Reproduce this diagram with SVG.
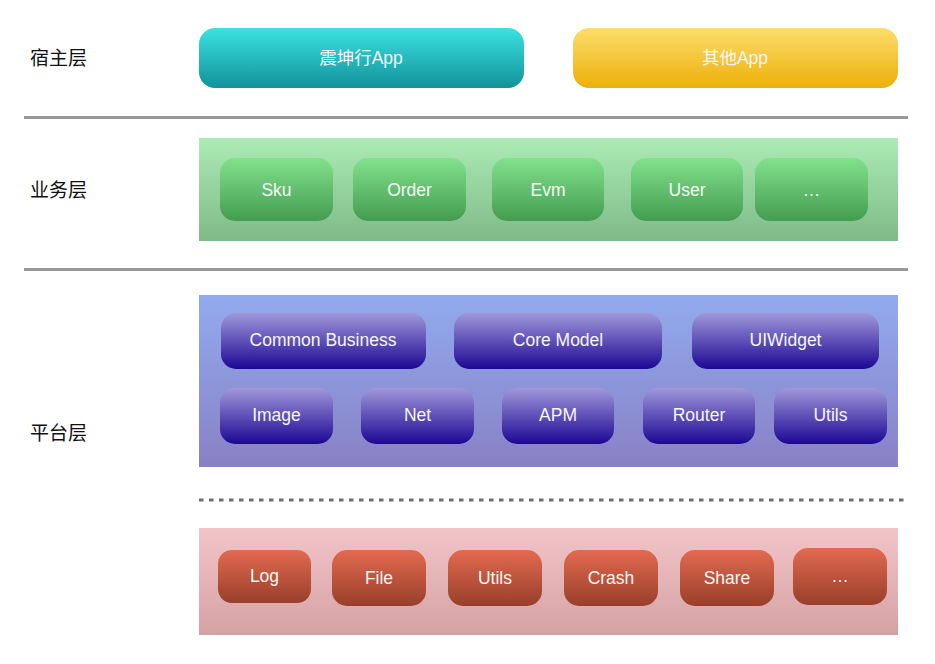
<svg xmlns="http://www.w3.org/2000/svg" width="935" height="664" viewBox="0 0 935 664">
<defs>
<linearGradient id="gTeal" x1="0" y1="0" x2="0" y2="1"><stop offset="0" stop-color="#3ae2e2"/><stop offset="1" stop-color="#12929a"/></linearGradient>
<linearGradient id="gYellow" x1="0" y1="0" x2="0" y2="1"><stop offset="0" stop-color="#fddd6c"/><stop offset="1" stop-color="#ecb009"/></linearGradient>
<linearGradient id="gGreenPanel" x1="0" y1="0" x2="0" y2="1"><stop offset="0" stop-color="#abebb4"/><stop offset="1" stop-color="#7fba88"/></linearGradient>
<linearGradient id="gGreenNode" x1="0" y1="0" x2="0" y2="1"><stop offset="0" stop-color="#82e28c"/><stop offset="1" stop-color="#439c50"/></linearGradient>
<linearGradient id="gBluePanel" x1="0" y1="0" x2="0" y2="1"><stop offset="0" stop-color="#91abee"/><stop offset="1" stop-color="#8980c5"/></linearGradient>
<linearGradient id="gBlueNode" x1="0" y1="0" x2="0" y2="1"><stop offset="0" stop-color="#a098da"/><stop offset="1" stop-color="#1c0794"/></linearGradient>
<linearGradient id="gPinkPanel" x1="0" y1="0" x2="0" y2="1"><stop offset="0" stop-color="#f2c4c8"/><stop offset="1" stop-color="#d5a2a4"/></linearGradient>
<linearGradient id="gRedNode" x1="0" y1="0" x2="0" y2="1"><stop offset="0" stop-color="#e36a50"/><stop offset="1" stop-color="#983f2a"/></linearGradient>
<style>
.lbl{font-family:"Noto Sans CJK SC","Liberation Sans",sans-serif;font-size:19px;fill:#111}
.t{font-family:"Liberation Sans","Noto Sans CJK SC",sans-serif;font-size:17.5px;fill:#f6f6f6;text-anchor:middle}
.green{fill:url(#gGreenNode)}
.blue{fill:url(#gBlueNode)}
.red{fill:url(#gRedNode)}
.sep{stroke:#999;stroke-width:3}
</style>
</defs>

<g id="labels">
<text class="lbl" x="30" y="65">宿主层</text>
<text class="lbl" x="30" y="197">业务层</text>
<text class="lbl" x="30" y="440">平台层</text>
</g>

<g id="panels">
<rect x="199" y="138" width="699" height="103" fill="url(#gGreenPanel)"/>
<rect x="199" y="295" width="699" height="172" fill="url(#gBluePanel)"/>
<rect x="199" y="528" width="699" height="107" fill="url(#gPinkPanel)"/>
</g>

<g id="connectors">
<line class="sep" x1="24" y1="117.5" x2="908" y2="117.5"/>
<line class="sep" x1="24" y1="269.5" x2="908" y2="269.5"/>
<line x1="199" y1="500" x2="905" y2="500" stroke="#6e6e6e" stroke-width="3" stroke-dasharray="4.5 5.5"/>
</g>

<g id="host-zkh"><rect x="199" y="28" width="325" height="60" rx="16" fill="url(#gTeal)"/><text class="t" x="361" y="64">震坤行App</text></g>
<g id="host-other"><rect x="573" y="28" width="325" height="60" rx="16" fill="url(#gYellow)"/><text class="t" x="735" y="64">其他App</text></g>

<g id="biz-sku"><rect class="green" x="220" y="158" width="113" height="63" rx="15"/><text class="t" x="276.5" y="196">Sku</text></g>
<g id="biz-order"><rect class="green" x="353" y="158" width="113" height="63" rx="15"/><text class="t" x="409.5" y="196">Order</text></g>
<g id="biz-evm"><rect class="green" x="492" y="158" width="112" height="63" rx="15"/><text class="t" x="548" y="196">Evm</text></g>
<g id="biz-user"><rect class="green" x="631" y="158" width="112" height="63" rx="15"/><text class="t" x="687" y="196">User</text></g>
<g id="biz-more"><rect class="green" x="755" y="158" width="113" height="63" rx="15"/><text class="t" x="811.5" y="196">…</text></g>

<g id="pf-common"><rect class="blue" x="221" y="313" width="205" height="56" rx="15"/><text class="t" x="323" y="346">Common Business</text></g>
<g id="pf-core"><rect class="blue" x="454" y="313" width="208" height="56" rx="15"/><text class="t" x="558" y="346">Core Model</text></g>
<g id="pf-uiwidget"><rect class="blue" x="692" y="313" width="187" height="56" rx="15"/><text class="t" x="785.5" y="346">UIWidget</text></g>
<g id="pf-image"><rect class="blue" x="220" y="388" width="113" height="56" rx="15"/><text class="t" x="276.5" y="421">Image</text></g>
<g id="pf-net"><rect class="blue" x="361" y="388" width="113" height="56" rx="15"/><text class="t" x="417.5" y="421">Net</text></g>
<g id="pf-apm"><rect class="blue" x="502" y="388" width="112" height="56" rx="15"/><text class="t" x="558" y="421">APM</text></g>
<g id="pf-router"><rect class="blue" x="643" y="388" width="112" height="56" rx="15"/><text class="t" x="699" y="421">Router</text></g>
<g id="pf-utils"><rect class="blue" x="774" y="388" width="113" height="56" rx="15"/><text class="t" x="830.5" y="421">Utils</text></g>

<g id="base-log"><rect class="red" x="218" y="550" width="93" height="53" rx="14"/><text class="t" x="264.5" y="582">Log</text></g>
<g id="base-file"><rect class="red" x="332" y="550" width="94" height="56" rx="15"/><text class="t" x="379" y="584">File</text></g>
<g id="base-utils"><rect class="red" x="448" y="550" width="94" height="56" rx="15"/><text class="t" x="495" y="584">Utils</text></g>
<g id="base-crash"><rect class="red" x="564" y="550" width="94" height="56" rx="15"/><text class="t" x="611" y="584">Crash</text></g>
<g id="base-share"><rect class="red" x="680" y="550" width="94" height="56" rx="15"/><text class="t" x="727" y="584">Share</text></g>
<g id="base-more"><rect class="red" x="793" y="548" width="94" height="57" rx="15"/><text class="t" x="840" y="582">…</text></g>
</svg>
